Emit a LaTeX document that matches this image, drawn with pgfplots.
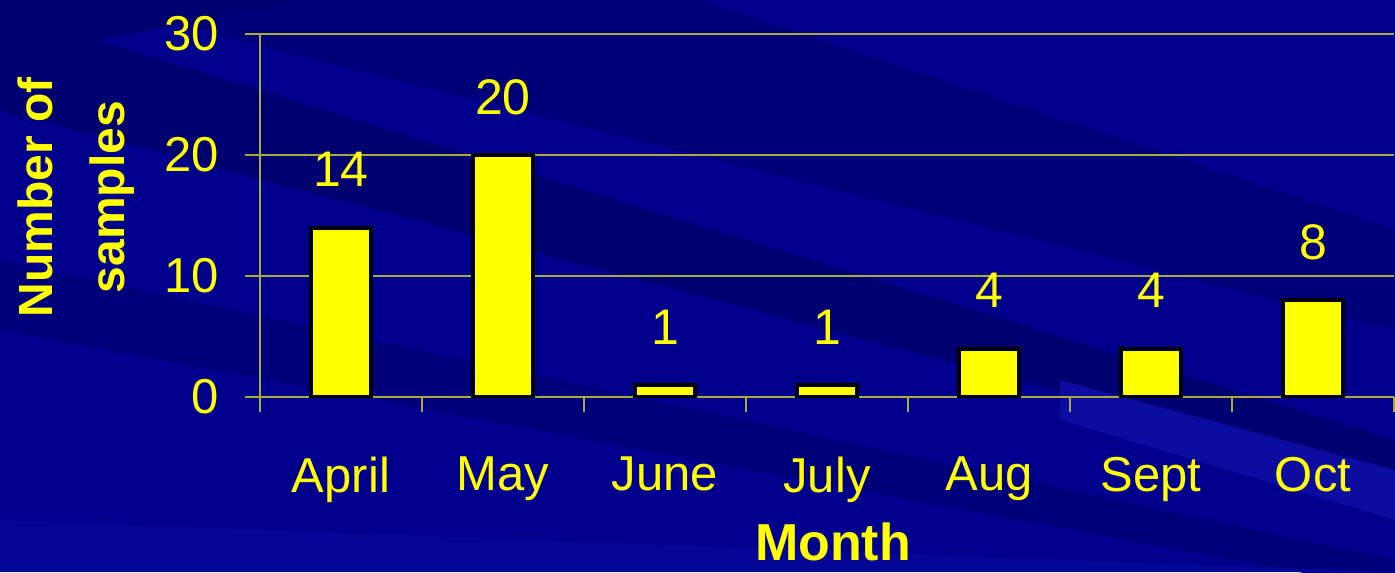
\documentclass[border=0pt]{standalone}
\usepackage{fontspec}
\setmainfont{Liberation Sans}
\usepackage{pgfplots}
\pgfplotsset{compat=1.18}

\definecolor{bgblue}{RGB}{0,0,140}
\definecolor{bgdark}{RGB}{0,0,112}
\definecolor{bglight}{RGB}{12,12,160}
\definecolor{axisolive}{RGB}{170,170,60}
\definecolor{barfill}{RGB}{255,255,0}

\begin{document}
\begin{tikzpicture}
% background, in pixel units of the reference
\begin{scope}[x=0.5pt,y=-0.5pt]
\clip (0,0) rectangle (1395,572);
\fill[bgblue] (0,0) rectangle (1395,572);
\fill[bgdark!70!bgblue] (0,0) -- (700,0) -- (1395,230) -- (1395,330) -- (0,-20) -- cycle;
\fill[bgdark] (0,10) -- (1395,440) -- (1395,480) -- (0,110) -- cycle;
\fill[bgdark!60!bgblue] (0,260) -- (1395,560) -- (1395,590) -- (0,330) -- cycle;
\fill[bgdark] (0,0) -- (300,0) -- (0,60) -- cycle;
\fill[bglight] (1060,380) -- (1395,470) -- (1395,520) -- (1060,420) -- cycle;
\fill[bglight!50!bgblue] (0,520) -- (1395,572) -- (0,572) -- cycle;
\end{scope}

\begin{axis}[
    at={(130pt,-198.5pt)}, anchor=south west,
    scale only axis,
    width=567pt, height=181.5pt,
    xmin=-0.5, xmax=6.5, ymin=0, ymax=30,
    axis x line*=bottom, axis y line*=left,
    axis line style={axisolive, line width=0.8pt},
    xtick={0,...,6},
    xticklabels={April,May,June,July,Aug,Sept,Oct},
    minor xtick={-0.5,0.5,...,6.5},
    major x tick style={draw=none},
    minor x tick style={axisolive, line width=0.8pt},
    minor tick length=7.5pt,
    ytick={0,10,20,30},
    major tick length=7.5pt,
    tick align=outside,
    y tick style={axisolive, line width=0.8pt},
    ymajorgrids,
    grid style={axisolive, line width=0.6pt},
    ticklabel style={font=\fontsize{24.5}{29}\selectfont, text=barfill},
    /pgf/number format/assume math mode=true,
    xticklabel style={yshift=-19pt},
    yticklabel style={xshift=-9.5pt},
    ybar, bar width=30pt,
    nodes near coords,
    every node near coord/.append style={font=\fontsize{25}{29}\selectfont,
        text=barfill, anchor=center, yshift=29pt},
]
\addplot[fill=barfill, draw=black, line width=2pt] coordinates {
    (0,14) (1,20) (2,1) (3,1) (4,4) (5,4) (6,8)
};
\end{axis}

\begin{scope}[x=0.5pt,y=-0.5pt]
\node[rotate=90, align=center, text=barfill,
      font=\fontsize{24}{36}\selectfont\bfseries] at (76,197)
      {Number of\\samples};
\node[anchor=base, text=barfill, font=\fontsize{26}{31}\selectfont\bfseries,
      inner sep=0pt] at (833,560) {Month};
\end{scope}
\end{tikzpicture}
\end{document}
